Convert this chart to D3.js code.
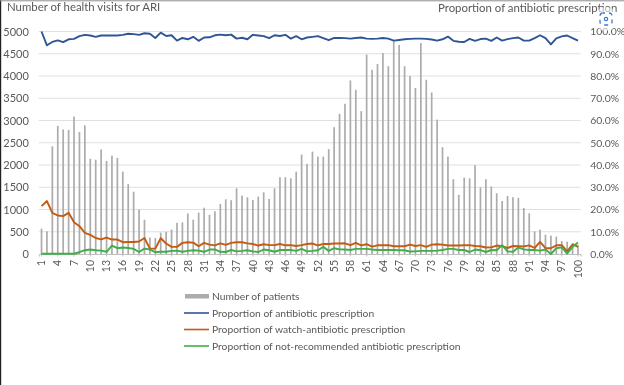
<!DOCTYPE html>
<html>
<head>
<meta charset="utf-8">
<script src="https://cdnjs.cloudflare.com/ajax/libs/d3/7.8.5/d3.min.js"></script>
<style>
  html, body { margin: 0; padding: 0; background: #fff; }
  svg { display: block; filter: blur(0.35px); }
  text { font-family: Lato, "Open Sans", sans-serif; fill: #595959; }
</style>
</head>
<body>
<div id="container"></div>
<script>
/* CONSTANTS AND GLOBALS */
const width = 624,
  height = 385,
  margin = { top: 31.5, bottom: 131, left: 38.8, right: 43.3 }

/* DATA */
const visits = d3.range(1, 101)

const patients = [
  570, 510, 2420, 2880, 2800, 2790, 3090, 2740, 2890, 2140,
  2120, 2350, 2090, 2210, 2160, 1850, 1570, 1400, 1000, 770,
  370, 360, 480, 500, 550, 700, 710, 910, 770, 930,
  1040, 880, 960, 1125, 1230, 1208, 1478, 1313, 1275, 1215,
  1290, 1387, 1237, 1478, 1725, 1725, 1700, 1850, 2235, 2025,
  2300, 2190, 2190, 2355, 2850, 3150, 3375, 3900, 3690, 3210,
  4480, 4140, 4270, 4515, 4220, 4785, 4700, 4220, 4000, 3730,
  4740, 3915, 3630, 3020, 2400, 2190, 1680, 1330, 1717, 1700,
  1995, 1500, 1680, 1515, 1365, 1192, 1305, 1275, 1260, 1035,
  915, 510, 547, 435, 412, 390, 292, 277, 165, 200
]

const antibiotic = [
  100, 93.8, 95.3, 96, 95.2, 96.5, 96.7, 97.9, 98.5, 98.2,
  97.6, 98.2, 98.2, 98.2, 98.2, 98.5, 99, 98.8, 98.5, 99.2,
  99, 97.1, 99.5, 98, 98.3, 95.9, 97.1, 96.5, 97.6, 95.8,
  97.3, 97.4, 98.3, 98.6, 98.3, 98.6, 96.8, 97.2, 96.5, 98.5,
  98.2, 97.9, 97, 98.3, 98, 98.5, 96.8, 97.9, 96.5, 97.3,
  97.6, 97.9, 97, 96.1, 97.1, 97.1, 97, 96.8, 97.1, 97.3,
  96.8, 96.7, 96.8, 97.1, 96.8, 95.9, 96.2, 96.5, 96.7, 96.8,
  96.8, 96.7, 96.4, 95.9, 96.5, 97.7, 95.8, 95.4, 95.3, 96.7,
  95.8, 96.6, 96.8, 95.8, 97.3, 95.9, 96.6, 97, 97.3, 95.9,
  95.9, 97, 98.3, 97, 94.2, 96.9, 97.8, 98.2, 97, 95.9
]

const watchAntibiotic = [
  21.5, 23.8, 18.5, 17.3, 17, 18.5, 14.3, 12.5, 9.5, 8.6,
  7.2, 6.6, 7.4, 6.5, 6.5, 5.3, 5.4, 5.4, 5.6, 7.2,
  2.4, 2.4, 7.1, 4.7, 3.2, 3.2, 5, 5.3, 5.1, 3.5,
  5, 4.2, 3.9, 4.8, 4.1, 5, 5.3, 5.3, 4.8, 4.5,
  3.8, 4.4, 4, 4, 4.5, 3.9, 4, 3.6, 4, 4.5,
  4.7, 3.9, 4.5, 4.5, 4.7, 4.7, 4.8, 4, 5, 3.9,
  4.4, 3.3, 3.9, 3.9, 4, 3.5, 3.5, 3.5, 4.2, 3.6,
  4, 3.2, 4.2, 4.4, 4.2, 3.8, 3.8, 3.8, 3.9, 4,
  3.6, 3.5, 2.9, 3, 3.8, 3.5, 2.7, 3.6, 3.5, 3.4,
  3.9, 2.7, 5.4, 2.6, 2.6, 3.9, 4, 1.2, 4.4, 3.2
]

const notRecommended = [
  0.1, 0.1, 0.1, 0.1, 0.1, 0.1, 0.1, 0.8, 1.7, 2,
  1.7, 1.5, 1, 3.8, 2.6, 2.9, 2.7, 2.3, 0.9, 2.4,
  2, 0.8, 1, 1, 1.4, 1.5, 1, 1.4, 1.7, 1.5,
  1, 2, 2.1, 1, 0.9, 1.8, 1.2, 1.4, 1.7, 1.2,
  0.9, 2, 1.7, 1, 1.8, 1.8, 1.8, 1.4, 2.3, 1.2,
  1.4, 1.7, 3.2, 1.4, 2.6, 2.1, 2, 1.8, 2.3, 2.3,
  2.3, 2, 1.8, 1.8, 1.8, 1.8, 1.7, 1.7, 1.1, 1.2,
  1.4, 1.4, 1.4, 1.5, 1.8, 2.3, 2.3, 1.8, 1.8, 0.9,
  2, 1.7, 0.9, 1.8, 1.7, 4, 1.2, 1, 2.9, 2.1,
  1.8, 1.8, 1.5, 2, 0, 2.6, 3, 0.2, 3.2, 5.2
]

const countTicks = d3.range(0, 5001, 500)
const pctTicks = d3.range(0, 101, 10)
const visitTicks = visits.filter(d => d % 3 === 1)

const lineSeries = [
  { label: "Proportion of antibiotic prescription", values: antibiotic, color: "#2f5597" },
  { label: "Proportion of watch-antibiotic prescription", values: watchAntibiotic, color: "#c55a11" },
  { label: "Proportion of not-recommended antibiotic prescription", values: notRecommended, color: "#3fae49" }
]

/* SCALES */
const svg = d3.select("#container")
  .append("svg")
  .attr("width", width)
  .attr("height", height)

const xScale = d3.scaleBand()
  .domain(visits)
  .range([margin.left, width - margin.right])

const yScale = d3.scaleLinear()
  .domain([0, 5000])
  .range([height - margin.bottom, margin.top])

const pctScale = d3.scaleLinear()
  .domain([0, 100])
  .range([height - margin.bottom, margin.top])

const xMid = d => xScale(d) + xScale.bandwidth() / 2

// frame left over from the screenshot
svg.append("line").attr("x1", 0.5).attr("x2", 0.5).attr("y1", 0).attr("y2", height)
  .attr("stroke", "#222").attr("stroke-width", 1.4)
svg.append("line").attr("x1", 0).attr("x2", width).attr("y1", 0.8).attr("y2", 0.8)
  .attr("stroke", "#8c8c8c")

/* GRID */
svg.append("g")
  .selectAll("line")
  .data(countTicks.slice(1))
  .join("line")
  .attr("x1", margin.left)
  .attr("x2", width - margin.right)
  .attr("y1", d => yScale(d))
  .attr("y2", d => yScale(d))
  .attr("stroke", "#e0e0e0")

/* AXES */
const yAxis = d3.axisLeft(yScale).tickValues(countTicks).tickSize(0).tickPadding(10)
  .tickFormat(d3.format("d"))
svg.append("g")
  .attr("class", "y-axis")
  .attr("transform", `translate(${margin.left},0)`)
  .call(yAxis)
  .call(g => g.select(".domain").remove())
  .selectAll("text").attr("font-size", "11px")

const pctAxis = d3.axisRight(pctScale).tickValues(pctTicks).tickSize(0).tickPadding(9.5)
  .tickFormat(d => d.toFixed(1) + "%")
svg.append("g")
  .attr("class", "pct-axis")
  .attr("transform", `translate(${width - margin.right},0)`)
  .call(pctAxis)
  .call(g => g.select(".domain").remove())
  .selectAll("text").attr("font-size", "10.4px")

const xAxis = d3.axisBottom(xScale).tickValues(visitTicks).tickSize(2.5).tickPadding(3)
svg.append("g")
  .attr("class", "x-axis")
  .attr("transform", `translate(0,${height - margin.bottom})`)
  .call(xAxis)
  .call(g => g.selectAll(".domain, line").attr("stroke", "#bfbfbf"))
  .selectAll("text")
  .attr("font-size", "10.5px")
  .attr("text-anchor", "end")
  .attr("transform", "rotate(-90)")
  .attr("x", -6)
  .attr("y", 0)
  .attr("dy", "0.35em")

/* BARS */
svg.append("g")
  .selectAll("rect")
  .data(patients)
  .join("rect")
  .attr("x", (d, i) => xMid(visits[i]) - 0.85)
  .attr("y", d => yScale(d))
  .attr("width", 1.7)
  .attr("height", d => yScale(0) - yScale(d))
  .attr("fill", "#aeabab")

/* LINES */
const line = d3.line()
  .x((d, i) => xMid(visits[i]))
  .y(d => pctScale(d))

svg.append("g")
  .selectAll("path")
  .data(lineSeries)
  .join("path")
  .attr("d", d => line(d.values))
  .attr("fill", "none")
  .attr("stroke", d => d.color)
  .attr("stroke-width", 1.9)
  .attr("stroke-linejoin", "round")

/* TITLES */
svg.append("text")
  .attr("x", 7)
  .attr("y", 11)
  .attr("font-size", "11.4px")
  .text("Number of health visits for ARI")

svg.append("text")
  .attr("x", 438)
  .attr("y", 12)
  .attr("font-size", "11.4px")
  .text("Proportion of antibiotic prescription")

/* LEGEND */
const legendX = 212
svg.append("rect")
  .attr("x", 185).attr("y", 294)
  .attr("width", 24).attr("height", 4.5)
  .attr("fill", "#aeabab")
svg.append("text")
  .attr("x", legendX).attr("y", 296).attr("dy", "0.35em")
  .attr("font-size", "10.3px")
  .text("Number of patients")

const legendRows = svg.append("g")
  .selectAll("g")
  .data(lineSeries)
  .join("g")
  .attr("transform", (d, i) => `translate(0,${[313, 329.5, 346][i]})`)

legendRows.append("line")
  .attr("x1", 184).attr("x2", 209)
  .attr("stroke", d => d.color)
  .attr("stroke-width", 1.6)

legendRows.append("text")
  .attr("x", legendX).attr("dy", "0.35em")
  .attr("font-size", "10.3px")
  .text(d => d.label)

/* LENS BADGE sitting on top of the screenshot */
const lens = svg.append("g").attr("transform", "translate(606,19)")
lens.append("circle").attr("r", 12).attr("fill", "#fff").attr("opacity", 0.55)
lens.append("rect")
  .attr("x", -6).attr("y", -6).attr("width", 12).attr("height", 12).attr("rx", 3)
  .attr("fill", "none").attr("stroke", "#3f78d8").attr("stroke-width", 1.3)
  .attr("stroke-dasharray", "4 4").attr("stroke-dashoffset", 2)
lens.append("circle").attr("r", 1.7)
  .attr("fill", "none").attr("stroke", "#3f78d8").attr("stroke-width", 1.2)
</script>
</body>
</html>
